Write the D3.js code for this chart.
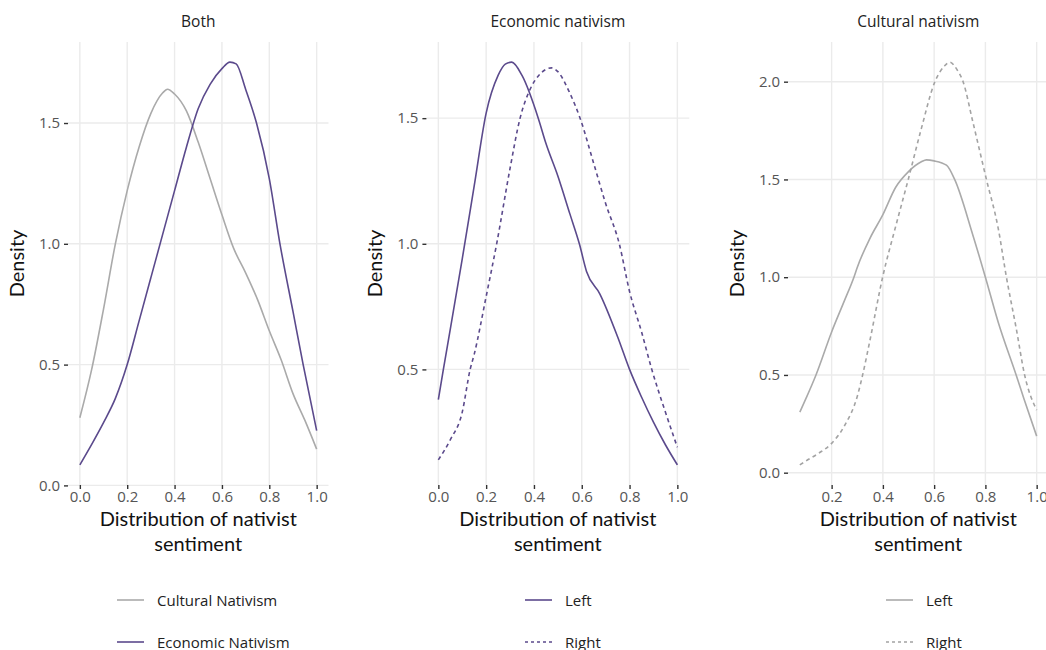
<!DOCTYPE html>
<html><head><meta charset="utf-8">
<script src="https://cdn.jsdelivr.net/npm/d3@7"></script>
<style>
body{margin:0;background:#fff;}
svg{display:block;font-family:"Open Sans",Lato,sans-serif;}
</style></head>
<body><svg id="chart" width="1046" height="650"></svg>
<script>
// ---- data ----
const xTicks = [0, 0.2, 0.4, 0.6, 0.8, 1.0];
const xTicks3 = [0.2, 0.4, 0.6, 0.8, 1.0];
const yTicks1 = [0, 0.5, 1.0, 1.5];
const yTicks2 = [0.5, 1.0, 1.5];
const yTicks3 = [0, 0.5, 1.0, 1.5, 2.0];
const panelTitles = ["Both", "Economic nativism", "Cultural nativism"];
const xTitleLines = ["Distribution of nativist", "sentiment"];

// Panel 1: Both
const bothCulturalX = [0,0.05,0.1,0.15,0.2,0.25,0.3,0.35,0.37,0.4,0.45,0.5,0.55,0.6,0.65,0.7,0.75,0.8,0.85,0.9,0.95,1.0];
const bothCulturalY = [0.28,0.48,0.73,1.0,1.22,1.40,1.54,1.625,1.64,1.62,1.55,1.42,1.27,1.12,0.98,0.88,0.77,0.64,0.52,0.38,0.27,0.15];
const bothEconomicX = [0,0.05,0.1,0.15,0.2,0.25,0.3,0.35,0.4,0.45,0.5,0.55,0.6,0.634,0.66,0.7,0.746,0.8,0.845,0.9,0.943,1.0];
const bothEconomicY = [0.085,0.17,0.26,0.36,0.5,0.68,0.86,1.04,1.22,1.40,1.56,1.66,1.725,1.752,1.745,1.64,1.5,1.27,1.0,0.72,0.5,0.227];

// Panel 2: Economic nativism
const econLeftX = [0,0.021,0.05,0.1,0.15,0.2,0.25,0.28,0.307,0.35,0.418,0.45,0.5,0.55,0.59,0.62,0.676,0.75,0.8,0.85,0.9,0.95,1.0];
const econLeftY = [0.38,0.5,0.66,0.94,1.23,1.52,1.67,1.715,1.723,1.67,1.5,1.40,1.27,1.12,1.0,0.89,0.80,0.63,0.5,0.39,0.29,0.2,0.12];
const econRightX = [0,0.05,0.1,0.133,0.15,0.2,0.244,0.3,0.342,0.384,0.42,0.474,0.5,0.55,0.593,0.65,0.7,0.757,0.8,0.85,0.893,0.95,1.0];
const econRightY = [0.14,0.22,0.33,0.5,0.56,0.79,1.0,1.3,1.5,1.615,1.67,1.70,1.685,1.6,1.5,1.32,1.16,1.0,0.81,0.65,0.5,0.33,0.19];

// Panel 3: Cultural nativism
const cultLeftX = [0.076,0.1,0.139,0.2,0.25,0.287,0.3,0.35,0.4,0.45,0.5,0.55,0.57,0.6,0.648,0.68,0.75,0.8,0.85,0.92,0.95,1.0];
const cultLeftY = [0.31,0.38,0.5,0.72,0.88,1.0,1.05,1.2,1.32,1.46,1.54,1.59,1.60,1.595,1.573,1.5,1.22,1.0,0.77,0.5,0.38,0.187];
const cultRightX = [0.076,0.1,0.15,0.2,0.25,0.3,0.321,0.35,0.399,0.45,0.499,0.55,0.603,0.64,0.661,0.69,0.713,0.75,0.804,0.85,0.882,0.92,0.953,1.0];
const cultRightY = [0.04,0.06,0.1,0.15,0.24,0.39,0.5,0.68,1.0,1.26,1.5,1.76,2.0,2.08,2.1,2.06,2.0,1.8,1.5,1.25,1.0,0.74,0.5,0.32];

// ---- styles ----
const PURPLE = "#5b4a8c";
const GREY = "#aaaaaa";
const GREY2 = "#a3a3a3";

const panels = [
  { title: panelTitles[0], x0: 68, x1: 328.5, xt: xTicks, yt: yTicks1,
    series: [
      { name: "Cultural Nativism", xs: bothCulturalX, ys: bothCulturalY, color: GREY, dash: null },
      { name: "Economic Nativism", xs: bothEconomicX, ys: bothEconomicY, color: PURPLE, dash: null }
    ], legX: 117 },
  { title: panelTitles[1], x0: 426.4, x1: 689.3, xt: xTicks, yt: yTicks2,
    series: [
      { name: "Left", xs: econLeftX, ys: econLeftY, color: PURPLE, dash: null },
      { name: "Right", xs: econRightX, ys: econRightY, color: PURPLE, dash: "4,3.5" }
    ], legX: 525 },
  { title: panelTitles[2], x0: 788, x1: 1048.5, xt: xTicks3, yt: yTicks3,
    series: [
      { name: "Left", xs: cultLeftX, ys: cultLeftY, color: GREY, dash: null },
      { name: "Right", xs: cultRightX, ys: cultRightY, color: GREY2, dash: "4,3.5" }
    ], legX: 886 }
];

const svg = d3.select("#chart");
const panelTop = 42, panelBottom = 485;
const FONT = "'Open Sans', Lato, sans-serif";
const TITLE_FONT = "Lato, 'Open Sans', sans-serif";

panels.forEach(p => {
  const allX = p.series.flatMap(s => s.xs);
  const allY = p.series.flatMap(s => s.ys);
  const [xmn, xmx] = d3.extent(allX), [ymn, ymx] = d3.extent(allY);
  const xr = xmx - xmn, yr = ymx - ymn;
  const x = d3.scaleLinear().domain([xmn - 0.05 * xr, xmx + 0.05 * xr]).range([p.x0, p.x1]);
  const y = d3.scaleLinear().domain([ymn - 0.05 * yr, ymx + 0.05 * yr]).range([panelBottom, panelTop]);

  const g = svg.append("g");
  // grid
  g.selectAll(".gx").data(p.xt).join("line")
    .attr("x1", d => x(d)).attr("x2", d => x(d)).attr("y1", panelTop).attr("y2", panelBottom)
    .attr("stroke", "#ebebeb").attr("stroke-width", 1.4);
  g.selectAll(".gy").data(p.yt).join("line")
    .attr("y1", d => y(d)).attr("y2", d => y(d)).attr("x1", p.x0).attr("x2", p.x1)
    .attr("stroke", "#ebebeb").attr("stroke-width", 1.4);

  // axes
  const xa = g.append("g").attr("transform", `translate(0,${panelBottom})`)
    .call(d3.axisBottom(x).tickValues(p.xt).tickFormat(d3.format(".1f")).tickSize(4).tickPadding(2));
  const ya = g.append("g").attr("transform", `translate(${p.x0},0)`)
    .call(d3.axisLeft(y).tickValues(p.yt).tickFormat(d3.format(".1f")).tickSize(4).tickPadding(4));
  [xa, ya].forEach(a => {
    a.select(".domain").remove();
    a.selectAll(".tick line").attr("stroke", "#333").attr("stroke-width", 1.4);
    a.selectAll(".tick text").attr("fill", "#555").attr("font-size", 15)
      .attr("font-family", FONT);
  });

  // lines
  p.series.forEach(s => {
    const pts = s.xs.map((v, i) => [v, s.ys[i]]);
    g.append("path").datum(pts)
      .attr("fill", "none").attr("stroke", s.color).attr("stroke-width", 1.6)
      .attr("stroke-dasharray", s.dash)
      .attr("d", d3.line().x(d => x(d[0])).y(d => y(d[1])).curve(d3.curveMonotoneX));
  });

  const cx = (p.x0 + p.x1) / 2;
  // panel title
  g.append("text").attr("x", cx).attr("y", 27).attr("text-anchor", "middle")
    .attr("font-size", 15.5).attr("fill", "#222").text(p.title);
  // x title (two lines)
  xTitleLines.forEach((l, i) => {
    g.append("text").attr("x", cx).attr("y", 526 + i * 24.5).attr("text-anchor", "middle")
      .attr("font-family", TITLE_FONT).attr("font-size", 20).attr("fill", "#111").text(l);
  });
  // y title
  g.append("text").attr("transform", `translate(${p.x0 - 44},263.5) rotate(-90)`)
    .attr("text-anchor", "middle").attr("font-family", TITLE_FONT)
    .attr("font-size", 20).attr("fill", "#111").text("Density");

  // legend
  p.series.forEach((s, i) => {
    const ly = 600 + i * 42;
    g.append("line").attr("x1", p.legX).attr("x2", p.legX + 27).attr("y1", ly).attr("y2", ly)
      .attr("stroke", s.color).attr("stroke-width", 1.6).attr("stroke-dasharray", s.dash ? "3,3" : null);
    g.append("text").attr("x", p.legX + 40).attr("y", ly + 5.5)
      .attr("font-size", 15).attr("fill", "#222").text(s.name);
  });
});
</script>
</body></html>
